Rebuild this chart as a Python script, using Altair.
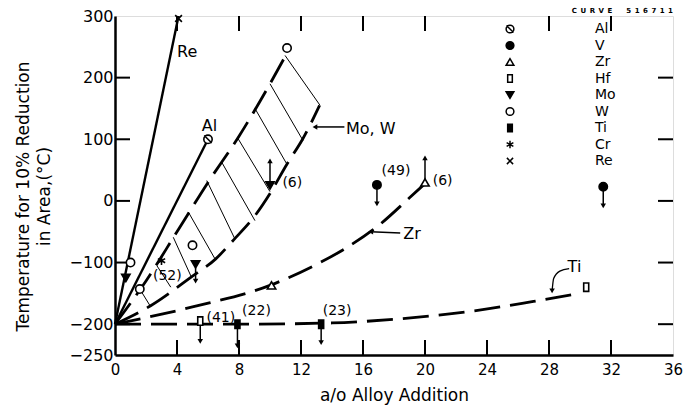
import altair as alt
import pandas as pd

FONT = "DejaVu Sans"

# ---------------- axis values ----------------
x_ticks = [0, 4, 8, 12, 16, 20, 24, 28, 32, 36]
y_ticks = [-250, -200, -100, 0, 100, 200, 300]
inner_y_ticks = [-200, -100, 0, 100, 200]
inner_x_bottom = [4, 8, 12, 16, 20, 24, 28, 32]
inner_x_top = [4, 8, 12, 16, 20, 28, 32]

# ---------------- solid lines ----------------
re_x = [0, 4.1]
re_y = [-200, 300]
al_x = [0, 6.0]
al_y = [-200, 100]

# ---------------- dashed curves ----------------
mow_up_x = [0, 2, 4, 6, 8, 10, 11.1]
mow_up_y = [-200, -130, -50, 30, 105, 190, 240]
mow_lo_x = [0, 2.3, 5, 6.5, 7.7, 9, 10, 11.1, 12.1, 13.2]
mow_lo_y = [-200, -170, -122, -94, -62, -25, 12, 60, 100, 155]
zr_x = [0, 5, 10, 13, 15, 17, 19, 20]
zr_y = [-200, -172, -137, -103, -75, -40, 5, 28]
ti_x = [0, 8, 14, 18, 23, 27, 30]
ti_y = [-200, -200, -198, -192, -179, -163, -150]

# ---------------- hatching of the Mo, W band ----------------
hatch_x1 = [10.97, 10.0, 9.03, 7.94, 6.88, 5.92, 4.73, 3.76, 2.7, 1.6]
hatch_y1 = [236, 190, 150, 101, 63, 33, -18, -59, -105, -143]
hatch_x2 = [13.23, 12.13, 11.08, 10.0, 9.03, 7.74, 6.45, 4.9, 3.6, 2.26]
hatch_y2 = [155, 98, 60, 15, -32, -62, -94, -122, -140, -170]

# ---------------- data points ----------------
elements = ["Al", "V", "Zr", "Hf", "Mo", "W", "Ti", "Cr", "Re"]
marker_el = ["Re", "Al", "W", "W", "W", "W", "Mo", "Mo", "Mo", "Cr", "Zr", "Zr",
             "V", "V", "Hf", "Hf", "Ti", "Ti"]
marker_x = [4.1, 6.0, 11.1, 1.0, 1.6, 5.0, 5.2, 10.0, 0.7, 3.0, 10.1, 20.0,
            16.9, 31.5, 5.5, 30.4, 7.9, 13.3]
marker_y = [296, 100, 248, -100, -143, -72, -103, 25, -125, -97, -137, 30,
            26, 23, -195, -140, -200, -200]

# ---------------- arrows ----------------
arrow_x1 = [5.2, 10.0, 20.0, 16.9, 31.5, 5.5, 7.9, 13.3, 14.8, 18.4]
arrow_y1 = [-108, 28, 34, 22, 19, -200, -205, -205, 120, -52]
arrow_x2 = [5.2, 10.0, 20.0, 16.9, 31.5, 5.5, 7.9, 13.3, 12.9, 16.5]
arrow_y2 = [-130, 65, 70, -5, -8, -228, -235, -230, 120, -50]
arrow_head = ["triangle-down", "triangle-up", "triangle-up", "triangle-down",
              "triangle-down", "triangle-down", "triangle-down", "triangle-down",
              "triangle-left", "triangle-left"]
ti_arrow_x = [29.3, 28.7, 28.3, 28.2]
ti_arrow_y = [-110, -114, -126, -146]

# ---------------- annotations ----------------
name_text = ["Re", "Mo, W", "Zr", "Ti"]
name_x = [4.0, 14.9, 18.6, 29.2]
name_y = [241, 117, -54, -108]
al_text = ["Al"]
al_tx = [6.1]
al_ty = [122]
count_text = ["(6)", "(49)", "(6)", "(52)", "(41)", "(22)", "(23)"]
count_x = [10.8, 17.2, 20.5, 2.45, 5.9, 8.2, 13.4]
count_y = [29, 49, 33, -122, -190, -179, -178]
curve_id = "\u2002".join("CURVE") + "\u2003\u2003" + "\u2002".join("516711")

# ---------------- tables ----------------
def curve(name, xs_, ys_):
    return pd.DataFrame({"series": name, "x": xs_, "y": ys_, "o": range(len(xs_))})

solid_df = pd.concat([curve("Re", re_x, re_y), curve("Al", al_x, al_y)])
dash_df = pd.concat([curve("MoW_up", mow_up_x, mow_up_y), curve("MoW_lo", mow_lo_x, mow_lo_y),
                     curve("Zr", zr_x, zr_y), curve("Ti", ti_x, ti_y)])
tiarrow_df = curve("TiArrow", ti_arrow_x, ti_arrow_y)
hatch_df = pd.DataFrame({"x": hatch_x1, "y": hatch_y1, "x2": hatch_x2, "y2": hatch_y2})
marker_df = pd.DataFrame({"el": marker_el, "x": marker_x, "y": marker_y})
arrow_df = pd.DataFrame({"x": arrow_x1, "y": arrow_y1, "x2": arrow_x2, "y2": arrow_y2})
head_df = pd.DataFrame({"x": arrow_x2 + [ti_arrow_x[-1]],
                        "y": arrow_y2 + [ti_arrow_y[-1]],
                        "head": arrow_head + ["triangle-down"]})
name_df = pd.DataFrame({"t": name_text, "x": name_x, "y": name_y})
al_df = pd.DataFrame({"t": al_text, "x": al_tx, "y": al_ty})
count_df = pd.DataFrame({"t": count_text, "x": count_x, "y": count_y})
ytick_df = pd.DataFrame({"v": inner_y_ticks})
xbot_df = pd.DataFrame({"v": inner_x_bottom})
xtop_df = pd.DataFrame({"v": inner_x_top})

# ---------------- scales / axes ----------------
xs = alt.Scale(domain=[0, 36], nice=False, zero=False)
ys = alt.Scale(domain=[-250, 300], nice=False, zero=False)
xax = alt.Axis(values=x_ticks, ticks=False, grid=False, domainWidth=2.5, domainColor="black",
               labelFont=FONT, labelFontSize=15, labelColor="black", labelPadding=7,
               labelFlush=False, labelOverlap=False, labelBound=False,
               title="a/o Alloy Addition", titleFont=FONT, titleFontSize=17,
               titleFontWeight="normal", titleColor="black", titleY=45,
               titleBaseline="alphabetic")
yax = alt.Axis(values=y_ticks, ticks=False, grid=False, domainWidth=2.5, domainColor="black",
               labelFont=FONT, labelFontSize=16, labelColor="black", labelPadding=2,
               labelOverlap=False, labelBound=False, labelFlush=False,
               title=["Temperature for 10% Reduction", "in Area,(°C)"],
               titleFont=FONT, titleFontSize=17, titleFontWeight="normal", titleColor="black",
               titleX=-92, titleY=180, titleAngle=-90, titleAlign="center",
               titleBaseline="middle", titleLineHeight=21)

X = lambda f="x": alt.X(f"{f}:Q", scale=xs, axis=xax)
Y = lambda f="y": alt.Y(f"{f}:Q", scale=ys, axis=yax)

# ---------------- layers ----------------
left_ticks = alt.Chart(ytick_df).mark_rule(color="black", strokeWidth=2).encode(
    y=alt.Y("v:Q", scale=ys, axis=yax), x=alt.value(0), x2=alt.value(15))
right_ticks = alt.Chart(ytick_df).mark_rule(color="black", strokeWidth=2).encode(
    y=alt.Y("v:Q", scale=ys, axis=yax), x=alt.value(543), x2=alt.value(558))
bottom_ticks = alt.Chart(xbot_df).mark_rule(color="black", strokeWidth=2).encode(
    x=alt.X("v:Q", scale=xs, axis=xax), y=alt.value(339), y2=alt.value(324))
top_ticks = alt.Chart(xtop_df).mark_rule(color="black", strokeWidth=2).encode(
    x=alt.X("v:Q", scale=xs, axis=xax), y=alt.value(0), y2=alt.value(15))

hatch = alt.Chart(hatch_df).mark_rule(color="black", strokeWidth=1).encode(
    x=X(), y=Y(), x2="x2:Q", y2="y2:Q")

solid = alt.Chart(solid_df).mark_line(color="black", strokeWidth=2.4).encode(
    x=X(), y=Y(), detail="series:N", order="o:Q")
dashed = alt.Chart(dash_df).mark_line(color="black", strokeWidth=2.8, strokeDash=[26, 10],
                                      interpolate="monotone").encode(
    x=X(), y=Y(), detail="series:N", order="o:Q")
tiarrow = alt.Chart(tiarrow_df).mark_line(color="black", strokeWidth=1.3,
                                          interpolate="monotone").encode(
    x=X(), y=Y(), order="o:Q")

arrows = alt.Chart(arrow_df).mark_rule(color="black", strokeWidth=1.5).encode(
    x=X(), y=Y(), x2="x2:Q", y2="y2:Q")
heads = alt.Chart(head_df).mark_point(filled=True, color="black", size=30, opacity=1).encode(
    x=X(), y=Y(), shape=alt.Shape("head:N", scale=None))

shape_range = [
    "M-1,0A1,1 0 1,0 1,0A1,1 0 1,0 -1,0M-0.9,-0.9L0.9,0.9",   # Al
    "circle",                                                   # V
    "triangle-up",                                              # Zr
    "M-0.6,-1H0.6V1H-0.6Z",                                     # Hf
    "triangle-down",                                            # Mo
    "circle",                                                   # W
    "M-0.6,-1H0.6V1H-0.6Z",                                     # Ti
    "M0,-1L0,1M-0.87,-0.5L0.87,0.5M-0.87,0.5L0.87,-0.5",        # Cr
    "M-0.8,-0.8L0.8,0.8M-0.8,0.8L0.8,-0.8",                     # Re
]
fill_range = ["white", "black", "white", "white", "black", "white", "black", "white", "white"]
stroke_range = ["black"] * len(elements)
leg = alt.Legend(orient="none", legendX=388, legendY=6, title=None, labelFont=FONT,
                 labelFontSize=14, labelColor="black", labelOffset=78, rowPadding=2.5,
                 symbolSize=60, symbolStrokeWidth=1.5, padding=0)
markers = alt.Chart(marker_df).mark_point(filled=True, strokeWidth=1.6,
                                          size=70, opacity=1).encode(
    x=X(), y=Y(),
    shape=alt.Shape("el:N", scale=alt.Scale(domain=elements, range=shape_range), legend=leg),
    fill=alt.Fill("el:N", scale=alt.Scale(domain=elements, range=fill_range), legend=leg),
    stroke=alt.Stroke("el:N", scale=alt.Scale(domain=elements, range=stroke_range), legend=leg),
)

names = alt.Chart(name_df).mark_text(font=FONT, fontSize=16, align="left", baseline="middle",
                                     color="black").encode(x=X(), y=Y(), text="t:N")
al_lab = alt.Chart(al_df).mark_text(font=FONT, fontSize=16, align="center", baseline="middle",
                                    color="black").encode(x=X(), y=Y(), text="t:N")
counts = alt.Chart(count_df).mark_text(font=FONT, fontSize=14, align="left", baseline="middle",
                                       color="black").encode(x=X(), y=Y(), text="t:N")

chart = alt.layer(
    left_ticks, right_ticks, bottom_ticks, top_ticks,
    hatch, solid, dashed, tiarrow, arrows, markers, heads, names, al_lab, counts
).properties(
    width=558, height=339,
    padding={"left": 115, "top": 16, "right": 13, "bottom": 60},
    autosize=alt.AutoSizeParams(type="none"),
    title=alt.TitleParams(curve_id, anchor="end", frame="group",
                          fontSize=7, font=FONT, fontWeight="bold", offset=3, dy=9,
                          color="black"),
).configure_view(stroke="black", strokeWidth=2.5).configure(background="white")

chart.save("out.html", embed_options={"renderer": "svg", "actions": False})
